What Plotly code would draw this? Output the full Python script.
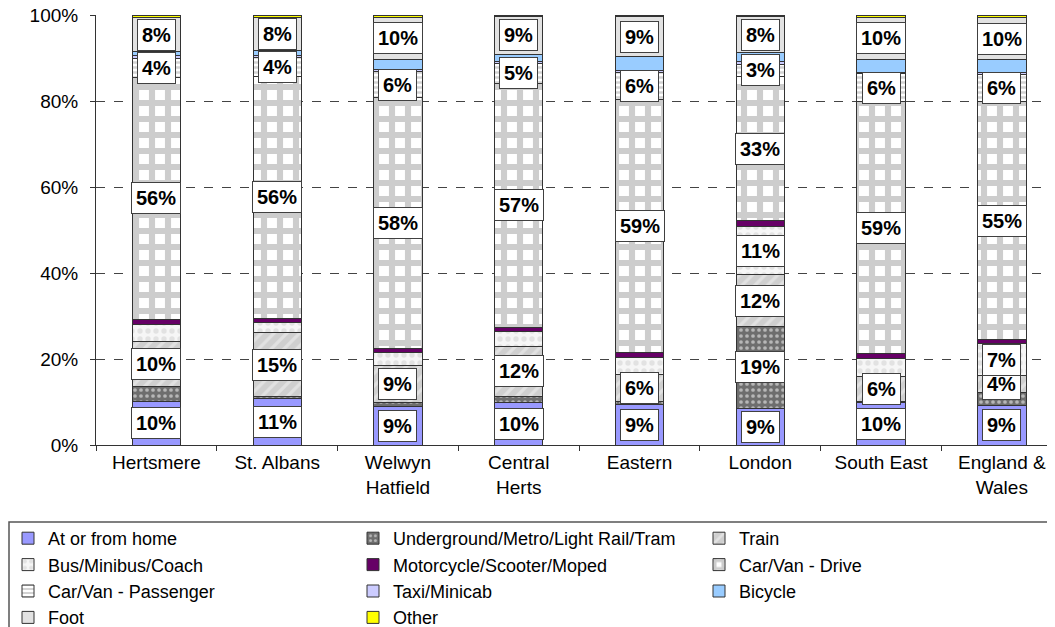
import plotly.graph_objects as go

# ---------------- data ----------------
categories = ["Hertsmere", "St. Albans", "Welwyn<br>Hatfield", "Central<br>Herts",
              "Eastern", "London", "South East", "England &<br>Wales"]

at_home      = [10.2, 10.8, 9.0, 9.8, 9.4, 8.6, 9.8, 9.2]
underground  = [3.4, 0.5, 0.8, 1.5, 0.7, 18.9, 0.3, 3.0]
train        = [10.4, 14.8, 8.6, 11.6, 6.4, 12.2, 5.8, 3.9]
bus          = [4.1, 2.5, 3.1, 3.5, 3.8, 11.0, 4.2, 7.4]
motorcycle   = [1.1, 0.9, 0.9, 1.0, 1.2, 1.5, 1.1, 1.0]
car_drive    = [56.3, 56.3, 58.3, 56.6, 58.8, 33.4, 58.7, 55.3]
car_passenger= [4.4, 4.4, 6.1, 4.8, 6.3, 3.0, 6.4, 6.4]
taxi         = [0.6, 0.3, 0.5, 0.4, 0.4, 0.5, 0.4, 0.4]
bicycle      = [0.9, 1.2, 2.3, 1.7, 3.4, 2.1, 2.9, 3.0]
foot         = [8.0, 7.7, 9.9, 8.7, 9.2, 8.4, 9.9, 9.8]
other        = [0.6, 0.6, 0.5, 0.4, 0.4, 0.4, 0.5, 0.6]

series_names = ["At or from home", "Underground/Metro/Light Rail/Tram", "Train",
                "Bus/Minibus/Coach", "Motorcycle/Scooter/Moped", "Car/Van - Drive",
                "Car/Van - Passenger", "Taxi/Minicab", "Bicycle", "Foot", "Other"]
series_values = [at_home, underground, train, bus, motorcycle, car_drive,
                 car_passenger, taxi, bicycle, foot, other]

# series always labelled; others labelled only when large
always_labelled = {"At or from home", "Train", "Car/Van - Drive",
                   "Car/Van - Passenger", "Foot"}
label_threshold = 5

# ---------------- geometry (figure sits 8px into the page) ----------------
OFF = 8
W, H = 1055 - OFF, 627 - OFF
ML, MT = 96 - OFF, 15 - OFF
PLOT_BOTTOM = 445 - OFF
MR, MB = 0, H - PLOT_BOTTOM
PW, PH = W - ML - MR, H - MT - MB

styles = {
    "At or from home": dict(color="#9999FF"),
    "Underground/Metro/Light Rail/Tram": dict(color="#6E6E6E",
        pattern=dict(shape=".", fgcolor="#FFFFFF", bgcolor="#6E6E6E", size=6, solidity=0.3)),
    "Train": dict(color="#D0D0D0",
        pattern=dict(shape="/", fgcolor="#F4F4F4", bgcolor="#CFCFCF", size=9, solidity=0.35)),
    "Bus/Minibus/Coach": dict(color="#F2F2F2",
        pattern=dict(shape=".", fgcolor="#CDCDCD", bgcolor="#F6F6F6", size=8, solidity=0.35)),
    "Motorcycle/Scooter/Moped": dict(color="#660066"),
    "Car/Van - Drive": dict(color="#A6A6A6",
        pattern=dict(shape="+", fgcolor="#9C9C9C", bgcolor="#FFFFFF", size=16, solidity=0.62)),
    "Car/Van - Passenger": dict(color="#B0B0B0",
        pattern=dict(shape="-", fgcolor="#A8A8A8", bgcolor="#FFFFFF", size=5, solidity=0.5)),
    "Taxi/Minicab": dict(color="#CCCCFF"),
    "Bicycle": dict(color="#99CCFF"),
    "Foot": dict(color="#E2E2E2"),
    "Other": dict(color="#FFFF00"),
}

legend_of = {
    "At or from home": "legend", "Bus/Minibus/Coach": "legend",
    "Car/Van - Passenger": "legend", "Foot": "legend",
    "Underground/Metro/Light Rail/Tram": "legend2", "Motorcycle/Scooter/Moped": "legend2",
    "Taxi/Minicab": "legend2", "Other": "legend2",
    "Train": "legend3", "Car/Van - Drive": "legend3", "Bicycle": "legend3",
}

fig = go.Figure()
for name, vals in zip(series_names, series_values):
    st = styles[name]
    marker = dict(color=st["color"], line=dict(color="#333333", width=1))
    if "pattern" in st:
        marker["pattern"] = st["pattern"]
    fig.add_trace(go.Bar(
        x=categories, y=vals, name=name, marker=marker,
        legend=legend_of[name], legendgroup=name,
        hoverinfo="skip",
    ))

# ---------------- value labels ----------------
annotations = []
for i, cat in enumerate(categories):
    base = 0.0
    for name, vals in zip(series_names, series_values):
        v = vals[i]
        if name in always_labelled or v >= label_threshold:
            annotations.append(dict(
                x=i, y=base + v / 2, xref="x", yref="y",
                text="<b>%d%%</b>" % round(v), showarrow=False,
                font=dict(family="Liberation Sans, Arial", size=20, color="black"),
                bgcolor="white", bordercolor="#404040", borderwidth=1, borderpad=4,
            ))
        base += v

# ---------------- layout ----------------
def px_to_paper_x(px):
    return (px - OFF - ML) / PW

def px_to_paper_y(py):
    return (PLOT_BOTTOM - (py - OFF)) / PH

legend_common = dict(
    orientation="v", xref="container", yref="container",
    xanchor="left", yanchor="top", bgcolor="rgba(0,0,0,0)", borderwidth=0,
    font=dict(family="Liberation Sans, Arial", size=18, color="black"),
    traceorder="grouped", tracegroupgap=0, itemwidth=30,
)
legend_top = 1 - (520 - OFF) / H

fig.update_layout(
    width=W, height=H,
    margin=dict(l=ML, r=MR, t=MT, b=MB, autoexpand=False),
    barmode="stack", bargap=0.6,
    plot_bgcolor="white", paper_bgcolor="white",
    font=dict(family="Liberation Sans, Arial", size=19, color="black"),
    showlegend=True,
    legend=dict(legend_common, x=0.0, y=legend_top),
    legend2=dict(legend_common, x=(353 - OFF) / W, y=legend_top),
    legend3=dict(legend_common, x=(699 - OFF) / W, y=legend_top),
    annotations=annotations,
    shapes=[dict(type="rect", xref="paper", yref="paper",
                 x0=px_to_paper_x(9), x1=px_to_paper_x(1075),
                 y0=px_to_paper_y(645), y1=px_to_paper_y(522),
                 line=dict(color="#555555", width=1.5), fillcolor="rgba(0,0,0,0)")],
)

fig.update_xaxes(
    type="category", range=[-0.5, 7.44],
    showline=True, linecolor="#333333", linewidth=1,
    ticks="outside", tickson="boundaries", ticklen=5, tickcolor="#333333",
    showgrid=False, tickfont=dict(size=19), tickangle=0,
)
fig.update_yaxes(
    range=[0, 100], dtick=20, ticksuffix="%",
    showline=True, linecolor="#333333", linewidth=1,
    ticks="outside", ticklen=5, tickcolor="#333333",
    showgrid=True, gridcolor="#444444", griddash="dash", gridwidth=1,
    zeroline=False, tickfont=dict(size=19), ticklabelstandoff=8,
    ticklabeloverflow="allow",
)

fig.write_html("out.html")
